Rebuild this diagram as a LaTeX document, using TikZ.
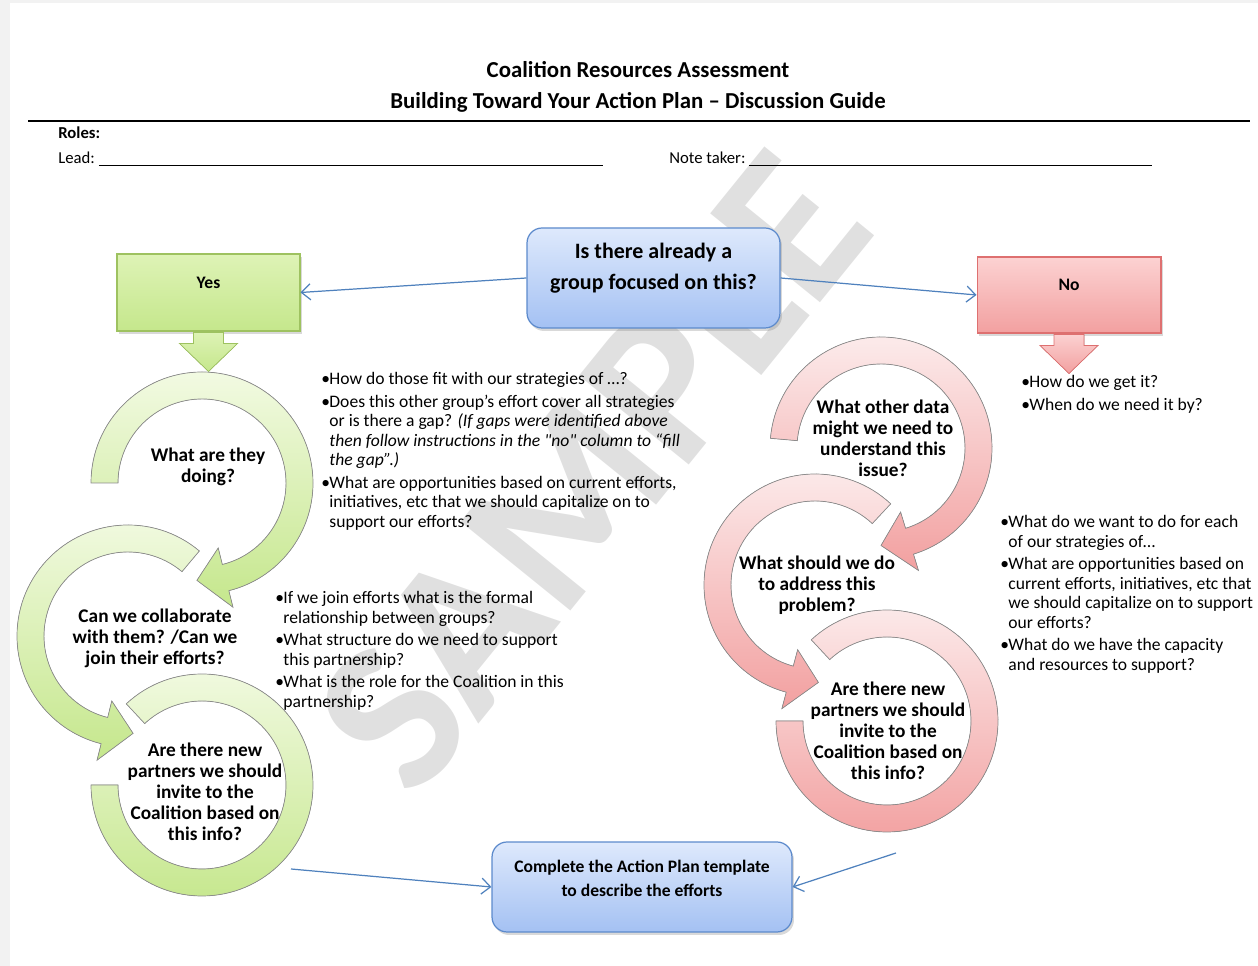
\documentclass[tikz,border=0pt]{standalone}
\usepackage{fontspec}
\setmainfont{Carlito}[Ligatures=TeXOff]
\usetikzlibrary{arrows.meta,shadows,positioning}
\definecolor{lnblue}{RGB}{79,129,189}
\definecolor{bluA}{RGB}{222,233,252}
\definecolor{bluB}{RGB}{164,193,243}
\definecolor{bluD}{RGB}{92,138,204}
\definecolor{grnA}{RGB}{242,250,226}
\definecolor{grnB}{RGB}{197,231,140}
\definecolor{grnC}{RGB}{222,243,182}
\definecolor{grnD}{RGB}{158,194,96}
\definecolor{pnkA}{RGB}{252,236,236}
\definecolor{pnkB}{RGB}{242,160,160}
\definecolor{pnkC}{RGB}{252,210,210}
\definecolor{pnkD}{RGB}{222,112,112}
\newcommand{\ringarrow}[5]{\begin{scope}[shift={(#1)}]
  \filldraw[#5] (#2:111) arc[start angle=#2,end angle=#3,radius=111] -- (#3:128) -- (#4:97.5) -- (#3:67) -- (#3:84) arc[start angle=#3,end angle=#2,radius=84] -- cycle;
  \end{scope}}
\newcommand{\ringopen}[4]{\begin{scope}[shift={(#1)}]
  \filldraw[#4] (#2:111) arc[start angle=#2,end angle=#3,radius=111] -- (#3:84) arc[start angle=#3,end angle=#2,radius=84] -- cycle;
  \end{scope}}
\newcommand{\bitem}{\makebox[4.6pt][l]{\textbullet}}
\newcommand{\bcont}{\hspace*{4.6pt}}

\begin{document}
\begin{tikzpicture}[x=0.02cm,y=0.02cm,
  conn/.style={draw=lnblue,line width=0.7pt,-{Straight Barb[length=1.8mm,width=3.2mm]}},
  shad/.style={drop shadow={opacity=0.3,shadow xshift=0.4mm,shadow yshift=-0.6mm}},
  ybox/.style={shad,draw=grnD,line width=0.6pt,top color=grnC,bottom color=grnB,minimum width=3.66cm,minimum height=1.54cm},
  nbox/.style={shad,draw=pnkD,line width=0.6pt,top color=pnkC,bottom color=pnkB,minimum width=3.68cm,minimum height=1.52cm},
  qbox/.style={shad,draw=bluD,line width=0.7pt,rounded corners=0.3cm,top color=bluA,bottom color=bluB},
  ringg/.style={top color=grnA,bottom color=grnB,draw=black!45,line width=0.4pt},
  ringp/.style={top color=pnkA,bottom color=pnkB,draw=black!45,line width=0.4pt},
  lbl/.style={font=\bfseries\fontsize{11}{12}\selectfont,align=center},
  bt/.style={font=\bfseries\fontsize{10}{13.6}\selectfont,align=center},
  txt/.style={font=\fontsize{10}{11.1}\selectfont,align=left,anchor=north west,inner sep=0pt},
  hdr/.style={font=\fontsize{9.5}{11}\selectfont,anchor=west,inner sep=0pt},
  wmark/.style={font=\bfseries\fontsize{124}{124}\selectfont,text=black!12}]
\useasboundingbox (0,0) rectangle (1258,966);
\fill[black!5] (0,0) rectangle (10,966);
\fill[black!5] (0,963) rectangle (1258,966);

\node[wmark,rotate=51] (sample) at (592,494) {SAMPLE};

\node[font=\bfseries\fontsize{13}{15}\selectfont] (title) at (638,896) {Coalition Resources Assessment};
\node[font=\bfseries\fontsize{13}{15}\selectfont] (subtitle) at (638,864) {Building Toward Your Action Plan – Discussion Guide};
\draw[line width=1.2pt] (28,845) -- (1250,845);
\node[hdr,font=\bfseries\fontsize{9.5}{11}\selectfont] (roles) at (58,833) {Roles:};
\node[hdr] (lead) at (58,808) {Lead:};
\node[hdr] (taker) at (669,808) {Note taker:};
\draw[line width=0.6pt] ([xshift=2pt,yshift=-1.2pt]lead.base east) -- ++(504,0);
\draw[line width=0.6pt] ([xshift=2pt,yshift=-1.2pt]taker.base east) -- ++(403,0);

\node[qbox,minimum width=5.06cm,minimum height=2cm] (ask) at (653.5,688) {};
\node[font=\bfseries\fontsize{12.5}{18}\selectfont,align=center] (asklbl) at ([yshift=2mm]ask.center) {Is there already a\\group focused on this?};
\node[ybox] (yes) at (208.5,673.5) {};
\node[bt] (yeslbl) at ([yshift=2mm]yes.center) {Yes};
\node[nbox] (no) at (1069,671) {};
\node[bt] (nolbl) at ([yshift=2mm]no.center) {No};
\node[qbox,minimum width=6cm,minimum height=1.8cm] (fin) at (642,79) {};
\node[bt] (finlbl) at ([yshift=1.8mm]fin.center) {Complete the Action Plan template\\to describe the efforts};

\filldraw[draw=grnD,top color=grnC,bottom color=grnB] (yes.south) ++(-15,-1) -- ++(0,-11) -- ++(-14,0) -- ++(29,-28) -- ++(29,28) -- ++(-14,0) -- ++(0,11) -- cycle;
\filldraw[draw=pnkD,top color=pnkC,bottom color=pnkB] (no.south) ++(-15,-1) -- ++(0,-11) -- ++(-14,0) -- ++(29,-28) -- ++(29,28) -- ++(-14,0) -- ++(0,11) -- cycle;

\ringopen{202,181}{133}{-180}{ringg}
\ringarrow{128,330}{50}{256}{273}{ringg}
\ringarrow{202,483}{180}{-76}{-93}{ringg}
\ringopen{887,245}{133}{-180}{ringp}
\ringarrow{815,381}{47}{255}{272}{ringp}
\ringarrow{881,518}{175}{-73}{-90}{ringp}

\node[lbl] (doing) at (208,499) {What are they\\doing?};
\node[lbl] (collab) at (155,328) {Can we collaborate\\with them? /Can we\\join their efforts?};
\node[lbl] (newleft) at (205,174) {Are there new\\partners we should\\invite to the\\Coalition based on\\this info?};
\node[lbl] (data) at (883,528) {What other data\\might we need to\\understand this\\issue?};
\node[lbl] (act) at (817,381) {What should we do\\to address this\\problem?};
\node[lbl] (newright) at (888,235) {Are there new\\partners we should\\invite to the\\Coalition based on\\this info?};

\node[txt] (qyes) at (321,594) {\bitem How do those fit with our strategies of …?\\[1.7pt]
  \bitem Does this other group’s effort cover all strategies\\
  \bcont or is there a gap? \textit{(If gaps were identified above}\\
  \bcont\textit{then follow instructions in the "no" column to “fill}\\
  \bcont\textit{the gap”.)}\\[1.7pt]
  \bitem What are opportunities based on current efforts,\\
  \bcont initiatives, etc that we should capitalize on to\\
  \bcont support our efforts?};
\node[txt] (qjoin) at (275,375) {\bitem If we join efforts what is the formal\\
  \bcont relationship between groups?\\[1.7pt]
  \bitem What structure do we need to support\\
  \bcont this partnership?\\[1.7pt]
  \bitem What is the role for the Coalition in this\\
  \bcont partnership?};
\node[txt] (qget) at (1021,591) {\bitem How do we get it?\\[1.7pt]
  \bitem When do we need it by?};
\node[txt] (qplan) at (1000,451) {\bitem What do we want to do for each\\
  \bcont of our strategies of…\\[1.7pt]
  \bitem What are opportunities based on\\
  \bcont current efforts, initiatives, etc that\\
  \bcont we should capitalize on to support\\
  \bcont our efforts?\\[1.7pt]
  \bitem What do we have the capacity\\
  \bcont and resources to support?};

\draw[conn] (ask.west) -- (yes.east);
\draw[conn] (ask.east) -- (no.west);
\coordinate (lout) at (291,97);
\coordinate (rout) at (896,113);
\draw[conn] (lout) -- (fin.west);
\draw[conn] (rout) -- (fin.east);
\end{tikzpicture}
\end{document}
